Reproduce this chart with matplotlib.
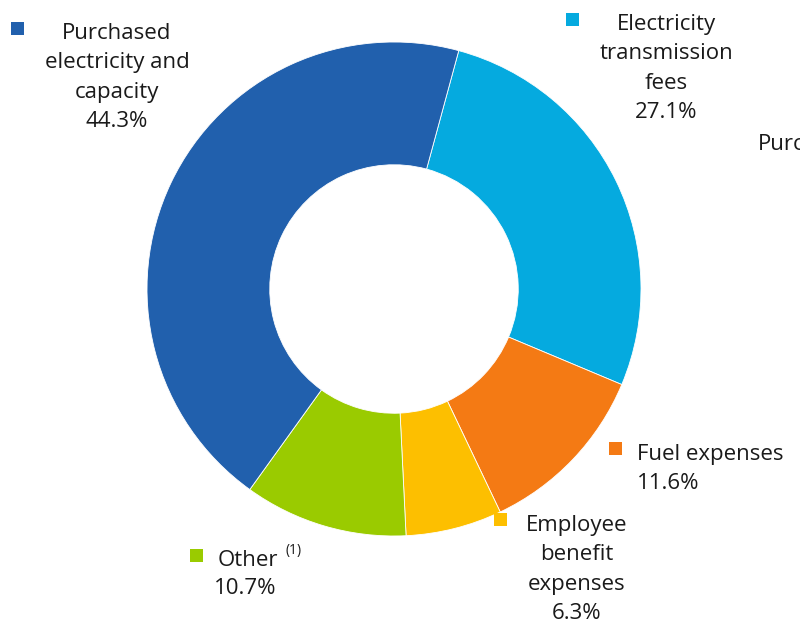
import matplotlib
matplotlib.use("Agg")
import matplotlib.pyplot as plt

labels = ["Electricity\ntransmission\nfees", "Fuel expenses", "Employee\nbenefit\nexpenses",
          "Other", "Purchased\nelectricity and\ncapacity"]
shares = [27.1, 11.6, 6.3, 10.7, 44.3]
colors = ["#05aadf", "#f47a14", "#fdbf00", "#9acb00", "#2160ad"]

W, H = 800, 623
plt.rcParams["font.family"] = ["Open Sans", "DejaVu Sans"]

fig = plt.figure(figsize=(W / 100, H / 100), dpi=100)
ax = fig.add_axes([0, 0, 1, 1])

cx, cy, R = 394, H - 289, 247
ax.pie(shares, colors=colors, startangle=74.8, counterclock=False,
       center=(cx, cy), radius=R, frame=True,
       wedgeprops=dict(width=R * 0.497, edgecolor="white", linewidth=0.6))
ax.set_xlim(0, W)
ax.set_ylim(0, H)
ax.set_aspect("equal")
ax.axis("off")

fs = 16
tc = "#1a1a1a"
step = 29.3


def pct(v):
    return f"{v:.1f}%"


def marker(x, y, c):
    ax.add_patch(plt.Rectangle((x - 6.5, H - y - 6.5), 13, 13, color=c, lw=0))


def block(lines, x, y0, ha):
    for i, s in enumerate(lines):
        ax.text(x, H - (y0 + i * step), s, ha=ha, va="baseline",
                fontsize=fs, color=tc)


# Purchased electricity and capacity
marker(17.5, 28, colors[4])
block(labels[4].split("\n") + [pct(shares[4])], 117, 39, "center")

# Electricity transmission fees
marker(572.5, 19, colors[0])
block(labels[0].split("\n") + [pct(shares[0])], 666.5, 30, "center")

# Label running off the right edge
ax.text(758, H - 150, "Purchased", ha="left", va="baseline", fontsize=fs, color=tc)

# Fuel expenses
marker(615, 448, colors[1])
block([labels[1], pct(shares[1])], 637, 460, "left")

# Employee benefit expenses
marker(500, 519, colors[2])
block(labels[2].split("\n") + [pct(shares[2])], 577, 531, "center")

# Other
marker(196, 555, colors[3])
ax.text(218, H - 566, labels[3], ha="left", va="baseline", fontsize=fs, color=tc)
ax.text(286, H - 554, "(1)", ha="left", va="baseline", fontsize=10, color=tc)
ax.text(245, H - 594, pct(shares[3]), ha="center", va="baseline", fontsize=fs, color=tc)

fig.savefig("out.png", dpi=100)
